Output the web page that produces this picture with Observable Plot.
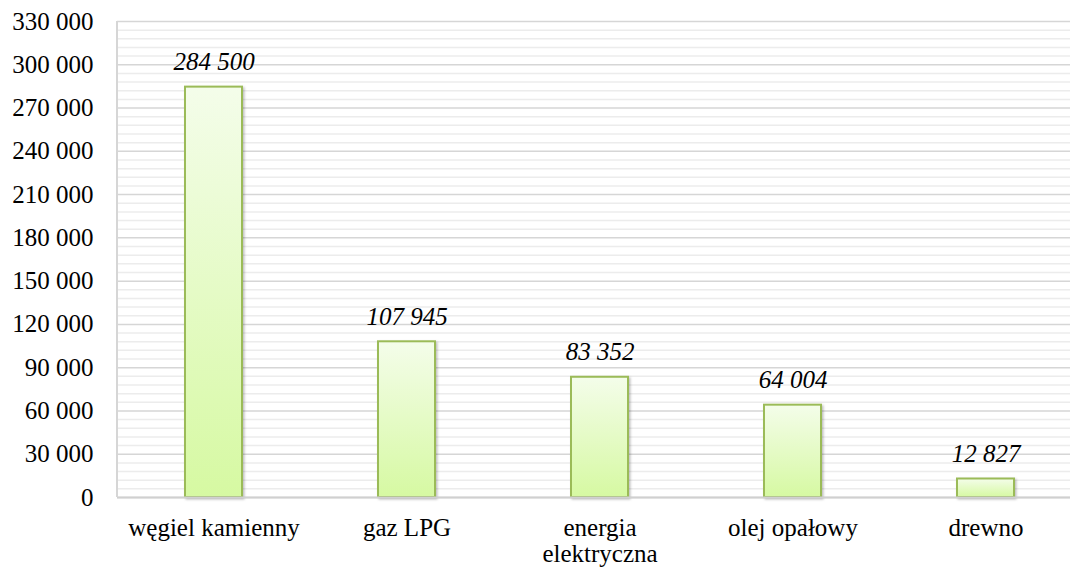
<!DOCTYPE html>
<html>
<head>
<meta charset="utf-8">
<script src="https://cdn.jsdelivr.net/npm/d3@7"></script>
<script src="https://cdn.jsdelivr.net/npm/@observablehq/plot@0.6"></script>
<style>
  html, body { margin: 0; padding: 0; background: #fff; overflow: hidden; }
  #chart svg { display: block; overflow: hidden; max-width: none !important; }
</style>
</head>
<body>
<div id="chart"></div>
<script>
const categories = ["węgiel kamienny", "gaz LPG", "energia\nelektryczna", "olej opałowy", "drewno"];
const values = [284500, 107945, 83352, 64004, 12827];
const majorTicks = [0, 30000, 60000, 90000, 120000, 150000, 180000, 210000, 240000, 270000, 300000, 330000];
const minorTicks = d3.range(0, 330001, 6000).filter(v => v % 30000 !== 0);

const data = categories.map((c, i) => ({cat: c, value: values[i]}));

const locale = d3.formatLocale({decimal: ",", thousands: " ", grouping: [3], currency: ["", ""]});
const fmt = locale.format(",d");

const FONT = "'Liberation Serif', 'Times New Roman', serif";

function gradientDefs() {
  const ns = "http://www.w3.org/2000/svg";
  const defs = document.createElementNS(ns, "defs");
  const lg = document.createElementNS(ns, "linearGradient");
  lg.setAttribute("id", "barGrad");
  lg.setAttribute("x1", "0"); lg.setAttribute("y1", "0");
  lg.setAttribute("x2", "0"); lg.setAttribute("y2", "1");
  [["0%", "#f4fdea"], ["100%", "#d6f9a2"]].forEach(([o, c]) => {
    const s = document.createElementNS(ns, "stop");
    s.setAttribute("offset", o); s.setAttribute("stop-color", c);
    lg.appendChild(s);
  });
  defs.appendChild(lg);
  const f = document.createElementNS(ns, "filter");
  f.setAttribute("id", "barShadow");
  f.setAttribute("x", "-20%"); f.setAttribute("y", "-5%");
  f.setAttribute("width", "150%"); f.setAttribute("height", "115%");
  const ds = document.createElementNS(ns, "feDropShadow");
  ds.setAttribute("dx", "1.5"); ds.setAttribute("dy", "1.5");
  ds.setAttribute("stdDeviation", "1");
  ds.setAttribute("flood-color", "#000"); ds.setAttribute("flood-opacity", "0.25");
  f.appendChild(ds);
  defs.appendChild(f);
  return defs;
}

const chart = Plot.plot({
  width: 1070,
  height: 567,
  marginLeft: 117,
  marginRight: -12,
  marginTop: 21,
  marginBottom: 70,
  style: {fontFamily: FONT, fontSize: "25px", color: "#000", background: "#fff"},
  x: {domain: categories, paddingInner: 0.705, paddingOuter: 0.3525, label: null},
  y: {domain: [0, 330000], label: null},
  marks: [
    gradientDefs,
    Plot.ruleY(minorTicks, {stroke: "#ececec", strokeWidth: 1.5}),
    Plot.ruleY(majorTicks, {stroke: "#d6d6d6", strokeWidth: 1.5}),
    Plot.axisY({ticks: majorTicks, tickFormat: fmt, tickSize: 0, tickPadding: 24, fontSize: 25, fill: "#000"}),
    Plot.axisX({tickSize: 0, tickPadding: 20, fontSize: 25, lineHeight: 1.04, fill: "#000", lineAnchor: "top"}),
    Plot.barY(data, {x: "cat", y: "value", fill: "url(#barGrad)", stroke: "#9bbb59", strokeWidth: 2, render: (i, s, v, d, c, next) => { const g = next(i, s, v, d, c); g.setAttribute("filter", "url(#barShadow)"); return g; }}),
    Plot.ruleY([0], {stroke: "#d0d0d0", strokeWidth: 2}),
    Plot.text(data, {x: "cat", y: "value", text: d => fmt(d.value), dy: -17, lineAnchor: "bottom", fontStyle: "italic", fontSize: 25, fill: "#000"})
  ]
});

// left frame line
const svg = d3.select(chart);
svg.append("line")
  .attr("x1", 117).attr("x2", 117).attr("y1", 21).attr("y2", 497)
  .attr("stroke", "#d6d6d6").attr("stroke-width", 2);

document.getElementById("chart").appendChild(chart);
</script>
</body>
</html>
